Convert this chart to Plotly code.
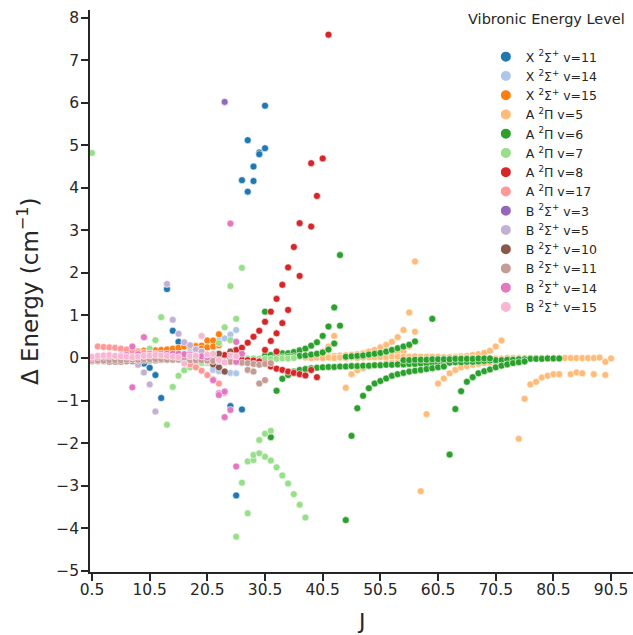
import plotly.graph_objects as go

# ---------------- data (J, delta energy in cm^-1) ----------------
J_X11 = [9.5, 10.5, 11.5, 12.5, 13.5, 14.5, 15.5, 24.5, 25.5, 26.5, 26.5, 27.5, 27.5, 28.5, 28.5, 29.5, 29.5, 30.5, 30.5]
E_X11 = [-0.13, -0.23, -0.40, -0.94, 1.62, 0.64, 0.38, -1.13, -3.23, -1.21, 4.18, 5.12, 3.91, 4.50, 4.16, 4.83, 4.79, 4.93, 5.93]

J_X14 = [16.5, 17.5, 18.5, 19.5, 20.5, 21.5, 22.5, 23.5, 24.5, 25.5, 18.5, 19.5, 20.5, 21.5, 22.5, 21.5, 22.5, 23.5, 24.5, 25.5]
E_X14 = [0.10, 0.13, 0.17, 0.22, 0.28, 0.33, 0.40, 0.46, 0.55, 0.66, -0.06, -0.09, -0.12, -0.16, -0.20, -0.28, -0.31, -0.33, -0.35, -0.36]

J_X15 = [6.5, 7.5, 8.5, 9.5, 10.5, 11.5, 12.5, 13.5, 14.5, 15.5, 16.5, 17.5, 18.5, 19.5, 20.5, 21.5, 22.5, 19.5, 20.5, 21.5, 22.5]
E_X15 = [0.14, 0.15, 0.16, 0.17, 0.17, 0.18, 0.19, 0.20, 0.22, 0.24, 0.27, 0.27, 0.28, 0.29, 0.41, 0.41, 0.56, 0.22, 0.25, 0.27, 0.30]

J_A5 = [39.5, 40.5, 41.5, 42.5,
        38.5, 39.5, 40.5, 41.5, 42.5, 43.5, 44.5, 45.5, 46.5, 47.5, 48.5, 49.5, 50.5, 51.5, 52.5, 53.5, 54.5, 55.5, 56.5,
        51.5, 52.5, 53.5, 54.5, 55.5, 56.5,
        63.5, 64.5, 65.5, 66.5, 67.5, 68.5, 69.5, 70.5, 71.5,
        37.5, 38.5, 39.5, 40.5, 41.5, 42.5, 43.5, 44.5, 45.5, 46.5, 47.5, 48.5, 49.5, 50.5, 51.5, 52.5, 53.5, 54.5,
        55.5, 56.5, 57.5, 58.5, 59.5, 60.5, 61.5, 62.5, 63.5, 64.5, 65.5, 66.5, 67.5, 68.5, 69.5, 70.5, 71.5, 72.5,
        73.5, 74.5, 75.5, 76.5, 77.5, 78.5, 79.5, 80.5, 81.5, 82.5, 83.5, 84.5, 85.5, 86.5, 87.5, 88.5, 89.5, 90.5,
        44.5, 45.5, 46.5, 47.5, 48.5, 49.5, 50.5, 51.5, 52.5, 53.5, 54.5, 55.5, 56.5, 57.5, 58.5, 59.5,
        57.5, 58.5, 60.5, 61.5, 62.5, 63.5, 64.5, 65.5, 66.5, 67.5, 68.5, 69.5, 70.5, 71.5, 72.5, 73.5,
        74.5, 75.5, 76.5, 77.5, 78.5, 79.5, 80.5, 81.5, 83.5, 84.5, 85.5, 87.5, 89.5]
E_A5 = [0.09, 0.15, 0.27, 0.52,
        0.03, 0.035, 0.04, 0.045, 0.05, 0.06, 0.065, 0.075, 0.09, 0.11, 0.15, 0.19, 0.25, 0.31, 0.38, 0.49, 0.66, 1.07, 2.27,
        0.06, 0.08, 0.11, 0.15, 0.27, 0.62,
        0.03, 0.04, 0.05, 0.07, 0.09, 0.12, 0.17, 0.27, 0.41,
        0.01, 0.0, 0.01, 0.0, 0.01, 0.0, 0.01, 0.0, 0.01, 0.0, 0.01, 0.02, 0.02, 0.02, 0.02, 0.03, 0.03, 0.03,
        0.03, 0.04, 0.03, 0.03, 0.03, 0.03, 0.02, 0.02, 0.0, 0.0, 0.0, 0.0, -0.01, -0.01, -0.01, -0.01, -0.01, 0.0,
        0.0, 0.0, 0.0, 0.0, 0.0, 0.0, 0.0, 0.0, 0.0, 0.0, 0.0, 0.0, 0.0, 0.0, 0.0, 0.01, -0.09, -0.01,
        -0.70, -0.38, -0.29, -0.24, -0.20, -0.17, -0.15, -0.13, -0.12, -0.11, -0.10, -0.09, -0.08, -0.07, -0.06, -0.06,
        -3.13, -1.32, -0.60, -0.48, -0.36, -0.28, -0.22, -0.19, -0.16, -0.14, -0.12, -0.11, -0.10, -0.09, -0.08, -0.07,
        -1.90, -0.96, -0.62, -0.56, -0.46, -0.42, -0.38, -0.38, -0.38, -0.34, -0.36, -0.38, -0.40]

J_A6 = [30.5, 31.5, 43.5, 59.5,
        30.5, 31.5, 32.5, 33.5, 34.5, 35.5, 36.5, 37.5, 38.5, 39.5, 40.5, 41.5, 42.5,
        33.5, 34.5, 35.5, 36.5, 37.5, 38.5, 39.5, 40.5, 41.5, 42.5, 43.5,
        44.5, 45.5, 46.5, 47.5, 48.5, 49.5, 50.5, 51.5, 52.5, 53.5, 54.5, 55.5, 56.5,
        32.5, 33.5, 34.5, 35.5, 36.5, 37.5, 38.5, 39.5, 40.5, 41.5, 42.5, 43.5, 44.5, 45.5, 46.5, 47.5, 48.5,
        49.5, 50.5, 51.5, 52.5, 53.5, 54.5, 55.5, 56.5, 57.5, 58.5, 59.5, 60.5, 61.5, 62.5, 63.5, 64.5, 65.5,
        66.5, 67.5, 68.5, 69.5, 70.5, 71.5, 72.5, 73.5, 74.5, 75.5, 76.5, 77.5, 78.5, 79.5, 80.5, 81.5,
        54.5, 55.5, 56.5, 57.5, 58.5, 59.5, 60.5, 61.5, 62.5, 63.5, 64.5, 65.5, 66.5, 67.5, 68.5, 69.5,
        44.5, 45.5, 46.5, 47.5, 48.5, 49.5, 50.5, 51.5, 52.5, 53.5, 54.5, 55.5, 56.5, 57.5, 58.5, 59.5, 60.5, 61.5,
        62.5, 63.5, 64.5, 65.5, 66.5, 67.5, 68.5, 69.5, 70.5, 71.5, 72.5, 73.5, 74.5, 75.5]
E_A6 = [1.09, -1.86, 2.42, 0.92,
        0.06, 0.07, 0.09, 0.11, 0.11, 0.14, 0.18, 0.22, 0.29, 0.37, 0.52, 0.74, 1.19,
        0.02, 0.03, 0.04, 0.05, 0.06, 0.08, 0.10, 0.13, 0.20, 0.34, 0.76,
        0.03, 0.04, 0.05, 0.06, 0.08, 0.10, 0.12, 0.15, 0.19, 0.23, 0.27, 0.31, 0.39,
        -0.77, -0.49, -0.40, -0.32, -0.28, -0.26, -0.24, -0.23, -0.22, -0.21, -0.21, -0.20, -0.20, -0.19, -0.19, -0.18, -0.18,
        -0.17, -0.17, -0.16, -0.16, -0.15, -0.15, -0.14, -0.14, -0.13, -0.13, -0.12, -0.12, -0.11, -0.11, -0.10, -0.10, -0.09,
        -0.09, -0.08, -0.07, -0.06, -0.05, -0.05, -0.04, -0.04, -0.03, -0.03, -0.02, -0.02, -0.02, -0.01, -0.01, -0.01,
        -0.05, -0.05, -0.04, -0.04, -0.04, -0.03, -0.03, -0.03, -0.03, -0.02, -0.02, -0.02, -0.02, -0.01, -0.01, -0.01,
        -3.81, -1.83, -1.18, -0.89, -0.71, -0.60, -0.54, -0.48, -0.42, -0.38, -0.35, -0.32, -0.30, -0.28, -0.26, -0.24, -0.22, -0.20,
        -2.27, -1.20, -0.78, -0.56, -0.45, -0.36, -0.31, -0.27, -0.22, -0.18, -0.15, -0.12, -0.10, -0.08]

J_A7 = [0.5, 10.5, 11.5, 12.5, 13.5, 14.5, 15.5, 16.5, 17.5, 18.5, 19.5, 20.5, 22.5, 23.5, 24.5, 24.5, 25.5, 26.5,
        25.5, 26.5, 27.5, 27.5, 28.5, 28.5, 29.5, 30.5, 31.5, 32.5, 33.5, 34.5, 35.5, 36.5, 37.5,
        29.5, 30.5, 31.5,
        26.5, 27.5, 28.5, 29.5, 30.5, 31.5, 32.5, 33.5, 34.5, 35.5]
E_A7 = [4.82, 0.22, 0.42, 0.96, -1.57, -0.68, -0.42, -0.29, -0.22, -0.17, -0.12, -0.08, 0.35, 0.72, 1.69, 0.42, 0.92, 2.12,
        -4.20, -2.93, -3.65, -2.43, -2.40, -2.28, -2.24, -2.32, -2.41, -2.57, -2.76, -2.95, -3.20, -3.45, -3.75,
        -1.93, -1.78, -1.71,
        0.0, -0.01, -0.01, -0.02, -0.02, -0.02, -0.02, -0.01, -0.01, 0.0]

J_A8 = [22.5, 23.5, 24.5, 25.5, 26.5, 27.5, 28.5, 29.5, 30.5, 31.5, 32.5, 33.5, 34.5, 35.5, 36.5, 38.5,
        31.5, 32.5, 33.5, 34.5, 36.5, 38.5, 39.5, 40.5, 41.5,
        30.5, 32.5,
        24.5, 25.5, 26.5, 27.5, 28.5, 29.5, 30.5, 31.5, 32.5, 33.5, 34.5, 35.5, 36.5, 37.5, 38.5, 39.5]
E_A8 = [0.03, 0.07, 0.15, 0.19, 0.24, 0.36, 0.50, 0.64, 0.85, 1.09, 1.39, 1.72, 2.13, 2.61, 3.17, 4.58,
        0.40, 0.58, 0.82, 1.13, 1.93, 3.09, 3.81, 4.69, 7.60,
        0.19, 0.15,
        -0.02, -0.03, -0.04, -0.05, -0.06, -0.08, -0.12, -0.20, -0.25, -0.28, -0.32, -0.35, -0.38, -0.41, -0.28, -0.45]

J_A17 = [1.5, 2.5, 3.5, 4.5, 5.5, 6.5, 7.5, 8.5, 9.5, 10.5, 11.5, 12.5, 13.5, 14.5, 15.5,
         16.5, 17.5, 18.5, 19.5, 20.5, 21.5, 22.5, 23.5]
E_A17 = [0.27, 0.26, 0.25, 0.24, 0.22, 0.20, 0.17, 0.14, 0.12, 0.10, 0.08, 0.06, 0.04, 0.02, 0.0,
         -0.10, -0.15, -0.22, -0.30, -0.40, -0.50, -0.60, -0.82]

J_B3 = [19.5, 20.5, 21.5, 23.5]
E_B3 = [0.02, 0.0, -0.03, 6.02]

J_B5 = [1.5, 3.5, 5.5, 7.5, 8.5, 9.5, 10.5, 11.5, 13.5, 14.5, 15.5, 16.5, 17.5, 18.5, 19.5]
E_B5 = [0.0, 0.01, 0.0, -0.04, -0.16, -0.34, -0.62, -1.26, 1.74, 0.90, 0.57, 0.37, 0.30, 0.20, 0.15]

J_B10 = [0.5, 1.5, 2.5, 3.5, 4.5, 5.5, 6.5, 7.5, 8.5, 9.5, 10.5, 11.5, 12.5, 13.5, 14.5, 15.5, 16.5, 17.5, 18.5, 19.5,
         20.5, 21.5, 22.5, 24.5, 21.5, 22.5, 23.5]
E_B10 = [-0.07, -0.07, -0.07, -0.08, -0.08, -0.08, -0.07, -0.07, -0.06, -0.06, -0.05, -0.05, -0.04, -0.04, -0.03, -0.03, -0.02, -0.02, -0.01, 0.0,
         0.05, 0.08, 0.10, 0.15, -0.15, -0.22, -0.32]

J_B11 = [0.5, 1.5, 2.5, 3.5, 4.5, 5.5, 6.5, 7.5, 8.5, 9.5, 10.5, 11.5, 12.5, 13.5, 14.5, 15.5, 16.5, 17.5, 18.5, 19.5,
         20.5, 21.5, 22.5, 23.5, 24.5, 25.5, 26.5, 27.5, 28.5, 29.5, 30.5, 27.5, 28.5, 29.5, 30.5, 31.5]
E_B11 = [-0.05, -0.06, -0.06, -0.05, -0.05, -0.05, -0.04, -0.04, -0.04, -0.03, -0.03, -0.03, -0.03, -0.04, -0.04, -0.04, -0.05, -0.05, -0.05, -0.06,
         -0.06, -0.07, -0.07, -0.08, -0.09, -0.10, -0.11, -0.28, -0.32, -0.60, -0.52, -0.12, -0.14, -0.16, -0.14, -0.12]

J_B14 = [0.5, 1.5, 2.5, 3.5, 4.5, 5.5, 6.5, 8.5, 10.5, 11.5, 12.5, 13.5, 14.5, 15.5, 16.5, 17.5, 18.5, 19.5, 20.5,
         7.5, 7.5, 9.5, 21.5, 22.5, 22.5, 23.5, 23.5, 24.5, 24.5, 25.5, 25.5, 25.5, 26.5]
E_B14 = [0.0, 0.02, 0.03, 0.04, 0.05, 0.06, 0.07, 0.09, 0.10, 0.10, 0.10, 0.10, 0.10, 0.10, 0.09, 0.08, 0.06, 0.04, 0.02,
         -0.69, 0.27, 0.49, -0.52, -0.83, -0.87, -0.79, -1.39, -1.22, 3.16, -2.55, 0.38, -0.09, 0.10]

J_B15 = [0.5, 1.5, 2.5, 3.5, 4.5, 5.5, 6.5, 7.5, 8.5, 9.5, 10.5, 11.5, 12.5, 13.5, 14.5, 15.5, 16.5, 17.5, 18.5, 19.5,
         20.5, 21.5, 22.5, 23.5, 24.5, 25.5]
E_B15 = [0.03, 0.05, 0.06, 0.07, 0.05, 0.04, 0.03, 0.02, 0.03, 0.05, 0.06, 0.07, 0.06, 0.05, 0.03, 0.02, -0.13, 0.04, 0.05, 0.52,
         0.08, 0.10, -0.05, -0.10, 0.06, 0.04]

SERIES = [
    ("X <sup>2</sup>Σ<sup>+</sup> v=11", "#1f77b4", J_X11, E_X11),
    ("X <sup>2</sup>Σ<sup>+</sup> v=14", "#aec7e8", J_X14, E_X14),
    ("X <sup>2</sup>Σ<sup>+</sup> v=15", "#ff7f0e", J_X15, E_X15),
    ("A <sup>2</sup>Π v=5", "#ffbb78", J_A5, E_A5),
    ("A <sup>2</sup>Π v=6", "#2ca02c", J_A6, E_A6),
    ("A <sup>2</sup>Π v=7", "#98df8a", J_A7, E_A7),
    ("A <sup>2</sup>Π v=8", "#d62728", J_A8, E_A8),
    ("A <sup>2</sup>Π v=17", "#ff9896", J_A17, E_A17),
    ("B <sup>2</sup>Σ<sup>+</sup> v=3", "#9467bd", J_B3, E_B3),
    ("B <sup>2</sup>Σ<sup>+</sup> v=5", "#c5b0d5", J_B5, E_B5),
    ("B <sup>2</sup>Σ<sup>+</sup> v=10", "#8c564b", J_B10, E_B10),
    ("B <sup>2</sup>Σ<sup>+</sup> v=11", "#c49c94", J_B11, E_B11),
    ("B <sup>2</sup>Σ<sup>+</sup> v=14", "#e377c2", J_B14, E_B14),
    ("B <sup>2</sup>Σ<sup>+</sup> v=15", "#f7b6d2", J_B15, E_B15),
]

X_TICKS = [0.5, 10.5, 20.5, 30.5, 40.5, 50.5, 60.5, 70.5, 80.5, 90.5]
Y_TICKS = [-5, -4, -3, -2, -1, 0, 1, 2, 3, 4, 5, 6, 7, 8]

FONT = "DejaVu Sans"
INK = "#262626"

fig = go.Figure()
for name, color, js, es in SERIES:
    fig.add_trace(go.Scatter(
        x=js, y=es, mode="markers", name=name,
        marker=dict(color=color, size=7, line=dict(color="white", width=0.6)),
    ))

fig.update_layout(
    width=633, height=635,
    margin=dict(l=90, r=0, t=10, b=63),
    plot_bgcolor="white", paper_bgcolor="white",
    font=dict(family=FONT, color=INK),
    showlegend=True,
    legend=dict(
        x=0.729, y=0.943, xanchor="left", yanchor="top",
        bgcolor="rgba(0,0,0,0)", borderwidth=0,
        font=dict(family=FONT, size=12.5, color=INK),
        itemsizing="constant",
    ),
    annotations=[
        dict(text="Vibronic Energy Level", xref="paper", yref="paper",
             x=0.8416, y=0.984, xanchor="center", yanchor="middle",
             showarrow=False, font=dict(family=FONT, size=14.5, color=INK)),
        dict(text="J", xref="paper", yref="paper",
             x=0.5, y=-0.0872, xanchor="center", yanchor="middle",
             showarrow=False, font=dict(family=FONT, size=22, color=INK)),
        dict(text="Δ Energy (cm<sup>−1</sup>)", xref="paper", yref="paper",
             x=-0.114, y=0.5, xanchor="center", yanchor="middle", textangle=-90,
             showarrow=False, font=dict(family=FONT, size=23, color=INK)),
    ],
)
fig.update_xaxes(
    range=[0.153, 94.3], tickvals=X_TICKS, ticktext=[f"{t:.1f}" for t in X_TICKS],
    showline=True, linecolor=INK, linewidth=1.8, mirror=False,
    ticks="outside", ticklen=7, tickwidth=1.5, tickcolor=INK,
    showgrid=False, zeroline=False, ticklabelstandoff=-5,
    tickfont=dict(family=FONT, size=15.5, color=INK),
)
fig.update_yaxes(
    range=[-5.03, 8.18], tickvals=Y_TICKS,
    showline=True, linecolor=INK, linewidth=1.8, mirror=False,
    ticks="outside", ticklen=7, tickwidth=1.5, tickcolor=INK,
    showgrid=False, zeroline=False, ticklabelstandoff=-1,
    tickfont=dict(family=FONT, size=15.5, color=INK),
)

fig.write_html("out.html")
